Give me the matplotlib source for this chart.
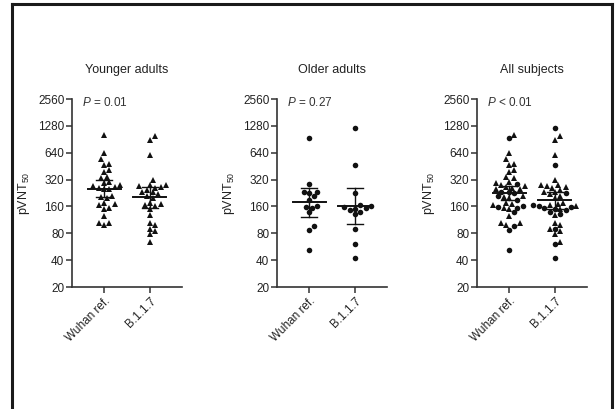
import numpy as np
import matplotlib
matplotlib.use("Agg")
from matplotlib import pyplot as plt
from matplotlib.lines import Line2D

plt.rcParams['font.family'] = ['Liberation Sans', 'DejaVu Sans']
plt.rcParams['mathtext.fontset'] = 'custom'
plt.rcParams['mathtext.rm'] = 'Liberation Sans'
plt.rcParams['mathtext.it'] = 'Liberation Sans:italic'

# pVNT50 titres per subject
young_wuhan = [1000, 640, 540, 470, 480, 410, 390, 330, 340, 290, 300, 260, 250,
               250, 265, 270, 275, 210, 205, 200, 175, 170, 165, 150, 155, 125,
               105, 105, 100]
young_b117 = [980, 900, 610, 320, 275, 270, 265, 280, 260, 245, 235, 230, 220,
              200, 210, 175, 170, 165, 160, 150, 128, 104, 98, 90, 85, 78, 64]
old_wuhan = [940, 283, 235, 230, 225, 208, 190, 158, 160, 155, 137, 96, 88, 52]
old_b117 = [1200, 470, 225, 165, 160, 158, 155, 150, 145, 140, 130, 90, 60, 42]

titles = ["Younger adults", "Older adults", "All subjects"]
p_labels = ["$P$ = 0.01", "$P$ = 0.27", "$P$ < 0.01"]
groups = ["Wuhan ref.", "B.1.1.7"]
yticks = [20, 40, 80, 160, 320, 640, 1280, 2560]


def t_crit(df, z=1.959964):
    # Cornish-Fisher approximation of the two sided 95% t quantile
    return z + (z**3 + z) / (4 * df) + (5 * z**5 + 16 * z**3 + 3 * z) / (96 * df**2)


def gmt_ci(vals):
    lv = np.log(np.asarray(vals, float))
    n = len(lv)
    m = lv.mean()
    se = lv.std(ddof=1) / np.sqrt(n)
    h = t_crit(n - 1) * se
    return np.exp(m), np.exp(m - h), np.exp(m + h)


def swarm(vals, px_oct=26.9, px_unit=46.0, size=5.4):
    # simple beeswarm: points keep their y, x moved out until no overlap
    y = np.log2(np.asarray(vals, float)) * px_oct
    xs = np.zeros(len(y))
    placed = []
    for i in np.argsort(y):
        k = 0
        while True:
            step = (k + 1) // 2 * (1 if k % 2 else -1) * size * 0.5
            if all((step - xs[j])**2 + (y[i] - y[j])**2 >= size**2 for j in placed):
                xs[i] = step
                break
            k += 1
        placed.append(i)
    return xs / px_unit


fig = plt.figure(figsize=(6.16, 4.09), dpi=100)
W, H = 616, 409

panels = [
    [(young_wuhan, '^'), (young_b117, '^')],
    [(old_wuhan, 'o'), (old_b117, 'o')],
    None,
]
lefts = [72, 277, 477]

for p in range(3):
    ax = fig.add_axes([lefts[p] / W, (H - 287) / H, 110 / W, 188 / H])
    if p < 2:
        sets = [[(v, m)] for v, m in panels[p]]
    else:
        sets = [[(young_wuhan, '^'), (old_wuhan, 'o')],
                [(young_b117, '^'), (old_b117, 'o')]]
    for g, parts in enumerate(sets):
        allv = np.concatenate([np.asarray(v, float) for v, _ in parts])
        marks = np.concatenate([[m] * len(v) for v, m in parts])
        offs = swarm(allv)
        for mk in ['^', 'o']:
            sel = marks == mk
            if sel.any():
                ax.plot(g + offs[sel], allv[sel], linestyle='none', marker=mk,
                        ms=4.0 if mk == '^' else 4.0, color='#111111',
                        markeredgewidth=0, zorder=3)
        gm, lo, hi = gmt_ci(allv)
        ax.plot([g - 0.36, g + 0.36], [gm, gm], color='#111111', lw=1.4, zorder=4)
        ax.plot([g, g], [lo, hi], color='#111111', lw=1.0, zorder=4)
        for c in (lo, hi):
            ax.plot([g - 0.17, g + 0.17], [c, c], color='#111111', lw=1.0, zorder=4)

    ax.set_yscale('log', base=2)
    ax.set_ylim(20, 2560)
    ax.set_xlim(-0.7, 1.7)
    ax.set_yticks(yticks)
    ax.set_yticklabels([str(t) for t in yticks])
    ax.yaxis.set_minor_locator(matplotlib.ticker.NullLocator())
    ax.set_xticks([0, 1])
    ax.set_xticklabels(groups, rotation=45, ha='right', rotation_mode='anchor')
    for s in ['top', 'right']:
        ax.spines[s].set_visible(False)
    for s in ['left', 'bottom']:
        ax.spines[s].set_linewidth(1.2)
        ax.spines[s].set_color('#333333')
    ax.tick_params(axis='both', direction='out', length=4, width=1.1,
                   colors='#333333', labelsize=8.5, labelcolor='#222222', pad=1.5)
    ax.set_ylabel('pVNT$_{50}$', fontsize=9, color='#222222', labelpad=4)
    ax.set_title(titles[p], fontsize=9, color='#222222', pad=19)
    ax.text(0.09, 0.98, p_labels[p], transform=ax.transAxes, fontsize=8.5,
            color='#333333', ha='left', va='center')
    ax.set_facecolor('none')

# frame around the figure
for xs_, ys_ in [([12, 12], [409, 4]), ([12, 612], [4, 4]), ([612, 612], [4, 409])]:
    fig.add_artist(Line2D([x / W for x in xs_], [1 - y / H for y in ys_],
                          color='#1a1a1a', lw=2.2))

fig.savefig('out.png', dpi=100)
